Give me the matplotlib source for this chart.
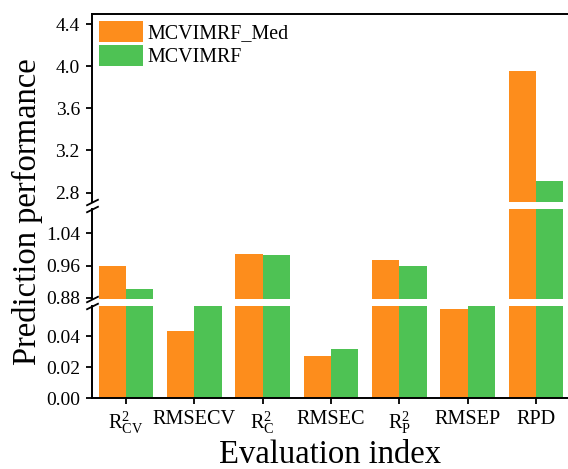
import matplotlib

matplotlib.use("Agg")
import matplotlib.pyplot as plt
import numpy as np

plt.rcParams["font.family"] = ["Liberation Serif", "DejaVu Serif"]
plt.rcParams["mathtext.fontset"] = "custom"
plt.rcParams["mathtext.rm"] = "Liberation Serif"
plt.rcParams["mathtext.it"] = "Liberation Serif:italic"

# values
categories = [r"$\mathrm{R^2_{CV}}$", "RMSECV", r"$\mathrm{R^2_{C}}$", "RMSEC",
              r"$\mathrm{R^2_{P}}$", "RMSEP", "RPD"]
med_values = [0.960, 0.0434, 0.989, 0.0271, 0.975, 0.0572, 3.95]
base_values = [0.903, 0.062, 0.987, 0.0314, 0.960, 0.060, 2.905]
series_names = ["MCVIMRF_Med", "MCVIMRF"]

ORANGE = "#FD8D1C"
GREEN = "#4EC254"

W, H = 568, 469
fig = plt.figure(figsize=(W / 100, H / 100), dpi=100)

left = 91.7 / W
width = 570 / W - left


def px_axes(top_px, bottom_px):
    return fig.add_axes([left, (H - bottom_px) / H, width, (bottom_px - top_px) / H])


ax_top = px_axes(14, 202)
ax_mid = px_axes(209, 299)
ax_bot = px_axes(306, 398)

x = np.arange(len(categories))
bw = 0.4
for ax in (ax_top, ax_mid, ax_bot):
    ax.bar(x - bw / 2, med_values, bw, color=ORANGE, label=series_names[0])
    ax.bar(x + bw / 2, base_values, bw, color=GREEN, label=series_names[1])
    ax.set_xlim(-0.5, 6.5)
    ax.set_facecolor("none")
    for s in ax.spines.values():
        s.set_linewidth(1.4)
    ax.spines["right"].set_visible(False)
    ax.tick_params(direction="out", length=4.5, width=1.3, pad=4, labelsize=14)

ax_top.set_ylim(2.71, 4.495)
ax_top.set_yticks([2.8, 3.2, 3.6, 4.0, 4.4])
ax_top.set_yticklabels(["2.8", "3.2", "3.6", "4.0", "4.4"])
ax_top.spines["bottom"].set_visible(False)
ax_top.tick_params(axis="x", bottom=False, labelbottom=False)

ax_mid.set_ylim(0.8775, 1.10)
ax_mid.set_yticks([0.88, 0.96, 1.04])
ax_mid.set_yticklabels(["0.88", "0.96", "1.04"])
ax_mid.spines["top"].set_visible(False)
ax_mid.spines["bottom"].set_visible(False)
ax_mid.tick_params(axis="x", bottom=False, labelbottom=False)

ax_bot.set_ylim(0, 0.0594)
ax_bot.set_yticks([0.0, 0.02, 0.04])
ax_bot.set_yticklabels(["0.00", "0.02", "0.04"])
ax_bot.spines["top"].set_visible(False)
ax_bot.set_xticks(x)
ax_bot.set_xticklabels(categories, fontsize=14.6)

# break marks on the left spine
kw = dict(marker=[(-1, -0.5), (1, 0.5)], markersize=9, linestyle="none",
          color="k", mec="k", mew=1.3, clip_on=False)
ax_top.plot([0], [0], transform=ax_top.transAxes, **kw)
ax_mid.plot([0, 0], [0, 1], transform=ax_mid.transAxes, **kw)
ax_bot.plot([0], [1], transform=ax_bot.transAxes, **kw)

ax_top.legend(loc="upper left", bbox_to_anchor=(0.015, 0.965), frameon=False,
              fontsize=14.4, handlelength=2.2, handleheight=1.25, labelspacing=0.1,
              handletextpad=0.25, borderpad=0, borderaxespad=0)

fig.text(27 / W, 1 - 212 / H, "Prediction performance", rotation=90,
         ha="center", va="center", fontsize=23.5)
fig.text(330 / W, 6 / H, "Evaluation index", ha="center", va="baseline", fontsize=23.5)

fig.savefig("out.png", dpi=100)
